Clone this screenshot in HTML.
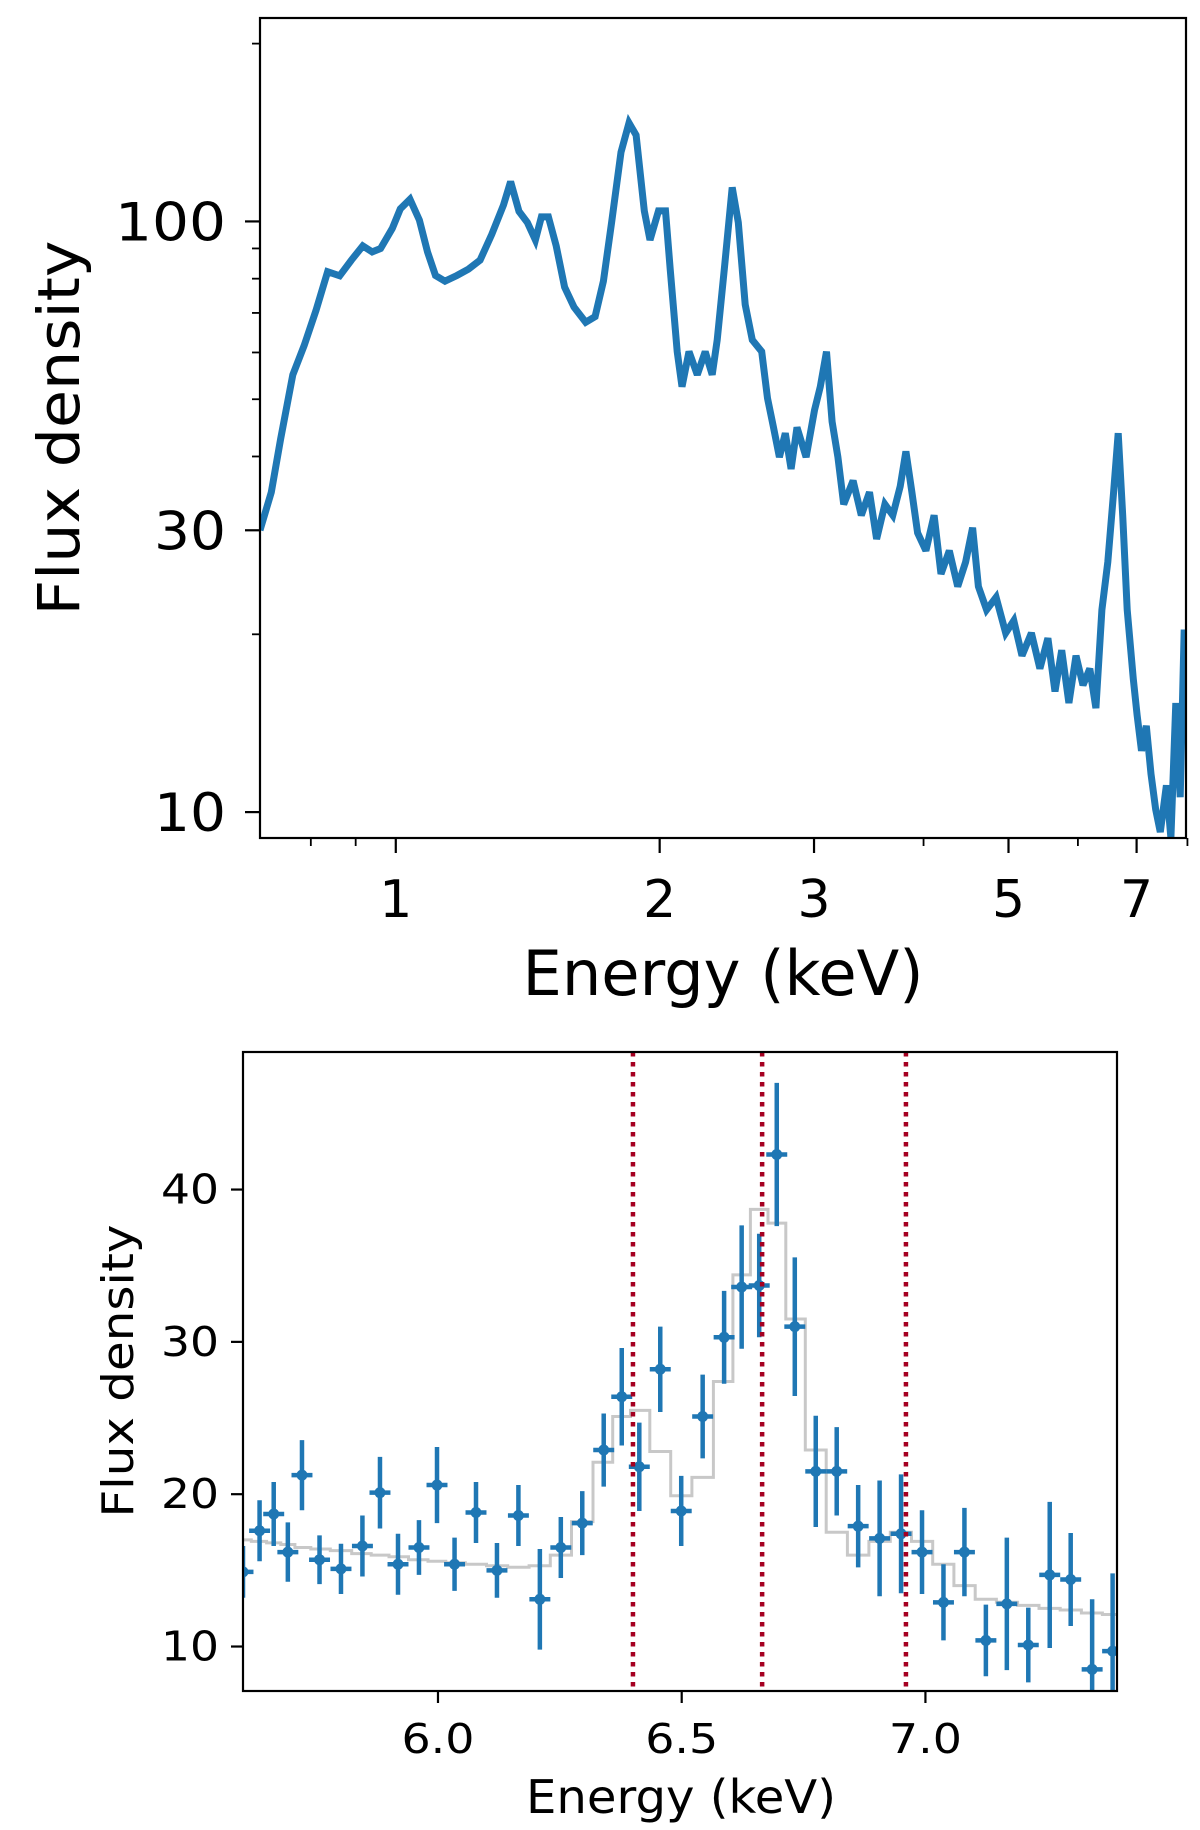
<!DOCTYPE html>
<html><head><meta charset="utf-8"><style>
html,body{margin:0;padding:0;background:#fff;}
svg{display:block;font-family:"DejaVu Sans","Liberation Sans",sans-serif;}
</style></head><body>
<svg id="fig" width="1200" height="1830" viewBox="0 0 1200 1830" xmlns="http://www.w3.org/2000/svg"></svg>
<script>
// ---- top panel data ----
const topEnergy = [0.70,0.721,0.739,0.763,0.786,0.811,0.836,0.863,0.890,0.917,0.940,0.961,0.991,1.012,1.038,1.064,1.087,1.11,1.138,1.174,1.21,1.248,1.287,1.327,1.352,1.382,1.413,1.443,1.466,1.493,1.524,1.558,1.597,1.647,1.688,1.725,1.763,1.807,1.845,1.88,1.921,1.95,1.994,2.031,2.056,2.094,2.121,2.16,2.208,2.254,2.296,2.326,2.37,2.42,2.459,2.504,2.551,2.615,2.655,2.697,2.739,2.782,2.825,2.869,2.938,3.004,3.05,3.1,3.146,3.194,3.243,3.324,3.397,3.471,3.536,3.614,3.69,3.762,3.819,3.879,3.938,4.025,4.112,4.188,4.28,4.375,4.467,4.55,4.62,4.72,4.84,4.963,5.07,5.18,5.31,5.43,5.545,5.65,5.75,5.86,5.97,6.08,6.19,6.29,6.39,6.49,6.59,6.67,6.75,6.83,6.94,7.01,7.09,7.18,7.27,7.36,7.45,7.57,7.66,7.76,7.85,7.93,8.0];
const topFlux = [30,34.8,42.8,55,61.6,70.7,82.2,80.9,86,90.9,88.8,90,97.3,105,109,100.5,88.8,81,79.2,81,83,86,95.1,106.6,116.8,104,99.6,93,101.8,101.8,90.9,77.4,71.6,67.5,69,79.2,99.6,131,146.8,140,104.2,93,104.2,104.2,83,60.2,52.5,60.2,55,60.2,55,63,83,114.2,99.6,72.3,63,60.2,50.2,44.8,39.9,43.8,38.1,44.8,39.9,47.9,52.5,60.2,45.8,39.9,33.2,36.4,31.8,34.8,29,33.2,31.8,35.6,40.8,34.8,29.7,27.7,31.8,25.3,27.7,24.1,26.5,30.3,24.1,22.0,23.1,20.1,21.1,18.4,20.1,17.5,19.7,16.0,18.8,15.3,18.4,16.4,17.5,15.0,22.0,26.5,34.8,43.8,31.8,22.0,16.8,14.6,12.7,14.0,11.6,10.1,9.25,11.1,9.04,15.3,10.6,20.1,20.1];
const topXTicks = [1,2,3,5,7];
const topXTickLabels = ["1","2","3","5","7"];
const topXMinor = [0.8,0.9,4,6,8];
const topYTicks = [10,30,100];
const topYTickLabels = ["10","30","100"];
const topYMinor = [20,40,50,60,70,80,90,200];

// ---- bottom panel data ----
const botEnergy = [5.600,5.634,5.663,5.692,5.721,5.757,5.801,5.845,5.881,5.918,5.961,5.998,6.034,6.078,6.121,6.165,6.209,6.252,6.296,6.340,6.377,6.413,6.456,6.499,6.543,6.587,6.623,6.659,6.695,6.732,6.775,6.818,6.862,6.906,6.950,6.993,7.037,7.080,7.124,7.167,7.211,7.255,7.298,7.342,7.384];
const botFlux = [14.9,17.6,18.7,16.2,21.25,15.7,15.1,16.6,20.1,15.4,16.5,20.6,15.4,18.8,15.0,18.6,13.1,16.5,18.1,22.9,26.4,21.8,28.2,18.9,25.1,30.3,33.6,33.7,42.3,31.0,21.5,21.5,17.9,17.1,17.4,16.2,12.9,16.2,10.4,12.8,10.1,14.7,14.4,8.5,9.7];
const botErr = [1.7,2.0,2.1,1.95,2.3,1.6,1.65,2.0,2.35,2.0,1.8,2.5,1.75,2.0,1.8,2.0,3.3,2.0,2.1,2.4,3.2,2.9,2.8,2.3,2.75,3.05,4.05,3.4,4.7,4.55,3.65,2.9,2.7,3.8,3.9,2.75,2.5,2.9,2.35,4.35,2.45,4.8,3.05,4.6,5.1];
const botModel = [17.0,16.9,16.8,16.7,16.5,16.4,16.3,16.1,16.0,15.9,15.7,15.6,15.5,15.4,15.3,15.2,15.3,16.0,18.2,22.1,25.1,25.5,22.8,19.9,21.1,27.4,34.4,38.7,37.8,31.5,22.9,17.5,16.0,16.9,17.5,16.9,15.4,14.0,13.1,12.9,12.7,12.5,12.4,12.2,12.1];
const lineEnergies = [6.40,6.665,6.96];
const botXTicks = [6.0,6.5,7.0];
const botXTickLabels = ["6.0","6.5","7.0"];
const botYTicks = [10,20,30,40];
const botYTickLabels = ["10","20","30","40"];

const NS = "http://www.w3.org/2000/svg";
const svg = document.getElementById('fig');
function mk(tag, attrs, parent){
  const e = document.createElementNS(NS, tag);
  for (const k in attrs) e.setAttribute(k, attrs[k]);
  (parent||svg).appendChild(e);
  return e;
}

// ===== TOP PANEL =====
const T = {l:260, r:1186, t:18, b:838, xmin:0.70, xmax:7.97, ymin:9.04, ymax:221};
const tx = v => T.l + (Math.log10(v)-Math.log10(T.xmin))/(Math.log10(T.xmax)-Math.log10(T.xmin))*(T.r-T.l);
const ty = v => T.b - (Math.log10(v)-Math.log10(T.ymin))/(Math.log10(T.ymax)-Math.log10(T.ymin))*(T.b-T.t);

const gTop = mk('g', {});


const clipT = mk('clipPath', {id:'clipT'});
mk('rect', {x:T.l, y:T.t, width:T.r-T.l, height:T.b-T.t}, clipT);

let d = '';
for (let i=0;i<topEnergy.length;i++){
  d += (i===0?'M':'L') + tx(topEnergy[i]).toFixed(1)+','+ty(topFlux[i]).toFixed(1)+' ';
}
const spec = mk('path', {d:d, fill:'none', stroke:'#1f77b4', 'stroke-width':7, 'stroke-linejoin':'miter', 'stroke-miterlimit':3, 'clip-path':'url(#clipT)'}, gTop);



const frameT = mk('rect', {x:T.l, y:T.t, width:T.r-T.l, height:T.b-T.t, fill:'none', stroke:'#000', 'stroke-width':2.2}, gTop);



topXTicks.forEach((v,i)=>{
  const x = tx(v);
  mk('line', {x1:x, x2:x, y1:T.b, y2:T.b+15, stroke:'#000', 'stroke-width':2.2}, gTop);
  const t = mk('text', {x:x, y:917, 'font-size':52, 'text-anchor':'middle', fill:'#000'}, gTop);
  t.textContent = topXTickLabels[i];
  
  
});
topXMinor.forEach(v=>{
  const x = tx(v);
  mk('line', {x1:x, x2:x, y1:T.b, y2:T.b+8, stroke:'#000', 'stroke-width':1.8}, gTop);
});
topYTicks.forEach((v,i)=>{
  const y = ty(v);
  mk('line', {x1:T.l-15, x2:T.l, y1:y, y2:y, stroke:'#000', 'stroke-width':2.2}, gTop);
  const lab = topYTickLabels[i];
  const t = mk('text', {x:226, y:y+19, 'font-size':53, 'text-anchor':'end', textLength: lab.length===3?111:72, lengthAdjust:'spacingAndGlyphs', fill:'#000'}, gTop);
  t.textContent = lab;
  
  
});
topYMinor.forEach(v=>{
  const y = ty(v);
  mk('line', {x1:T.l-8, x2:T.l, y1:y, y2:y, stroke:'#000', 'stroke-width':1.8}, gTop);
});
const txt1 = mk('text', {x:723, y:995, 'font-size':62, 'text-anchor':'middle', textLength:401, lengthAdjust:'spacingAndGlyphs', fill:'#000'}, gTop);
txt1.textContent = 'Energy (keV)';


const txt2 = mk('text', {x:0, y:0, 'font-size':58, 'text-anchor':'middle', textLength:375, lengthAdjust:'spacingAndGlyphs', fill:'#000', transform:'translate(79,428) rotate(-90)'}, gTop);
txt2.textContent = 'Flux density';



// ===== BOTTOM PANEL =====
const B = {l:243, r:1117, t:1052, b:1691, xmin:5.6, xmax:7.393, ymin:7.08, ymax:49.03};
const bx = v => B.l + (v-B.xmin)/(B.xmax-B.xmin)*(B.r-B.l);
const by = v => B.b - (v-B.ymin)/(B.ymax-B.ymin)*(B.b-B.t);

const gBot = mk('g', {});


const clipB = mk('clipPath', {id:'clipB'});
mk('rect', {x:B.l, y:B.t, width:B.r-B.l, height:B.b-B.t}, clipB);

let dm = '';
for (let i=0;i<botEnergy.length;i++){
  const x0 = i===0 ? B.l-5 : (bx(botEnergy[i-1])+bx(botEnergy[i]))/2;
  const x1 = i===botEnergy.length-1 ? B.r+5 : (bx(botEnergy[i])+bx(botEnergy[i+1]))/2;
  const y = by(botModel[i]);
  dm += (i===0?'M':'L') + x0.toFixed(1)+','+y.toFixed(1)+' L'+x1.toFixed(1)+','+y.toFixed(1)+' ';
}
const model = mk('path', {d:dm, fill:'none', stroke:'#c8c8c8', 'stroke-width':3, 'clip-path':'url(#clipB)'}, gBot);



const halfW = 0.0215;
botEnergy.forEach((e,i)=>{
  const g = mk('g', {'clip-path':'url(#clipB)'}, gBot);
  
  
  const x = bx(e), y = by(botFlux[i]);
  mk('line', {x1:x, x2:x, y1:by(botFlux[i]-botErr[i]), y2:by(botFlux[i]+botErr[i]), stroke:'#1f77b4', 'stroke-width':4.5}, g);
  mk('line', {x1:bx(e-halfW), x2:bx(e+halfW), y1:y, y2:y, stroke:'#1f77b4', 'stroke-width':4.5}, g);
  mk('circle', {cx:x, cy:y, r:5.5, fill:'#1f77b4'}, g);
});

lineEnergies.forEach(e=>{
  const x = bx(e);
  const l = mk('line', {x1:x, x2:x, y1:B.t, y2:B.b, stroke:'#a50021', 'stroke-width':4.5, 'stroke-dasharray':'4.5,5.5'}, gBot);
  
  
});

const frameB = mk('rect', {x:B.l, y:B.t, width:B.r-B.l, height:B.b-B.t, fill:'none', stroke:'#000', 'stroke-width':2.2}, gBot);



botXTicks.forEach((v,i)=>{
  const x = bx(v);
  mk('line', {x1:x, x2:x, y1:B.b, y2:B.b+12, stroke:'#000', 'stroke-width':2.2}, gBot);
  const t = mk('text', {x:x, y:1753, 'font-size':41, 'text-anchor':'middle', textLength:73, lengthAdjust:'spacingAndGlyphs', fill:'#000'}, gBot);
  t.textContent = botXTickLabels[i];
  
  
});
botYTicks.forEach((v,i)=>{
  const y = by(v);
  mk('line', {x1:B.l-12, x2:B.l, y1:y, y2:y, stroke:'#000', 'stroke-width':2.2}, gBot);
  const t = mk('text', {x:219, y:y+14, 'font-size':41, 'text-anchor':'end', textLength:58, lengthAdjust:'spacingAndGlyphs', fill:'#000'}, gBot);
  t.textContent = botYTickLabels[i];
  
  
});
const txt3 = mk('text', {x:681, y:1813, 'font-size':46, 'text-anchor':'middle', textLength:310, lengthAdjust:'spacingAndGlyphs', fill:'#000'}, gBot);
txt3.textContent = 'Energy (keV)';


const txt4 = mk('text', {x:0, y:0, 'font-size':44, 'text-anchor':'middle', textLength:293, lengthAdjust:'spacingAndGlyphs', fill:'#000', transform:'translate(133,1371) rotate(-90)'}, gBot);
txt4.textContent = 'Flux density';


</script>
</body></html>
